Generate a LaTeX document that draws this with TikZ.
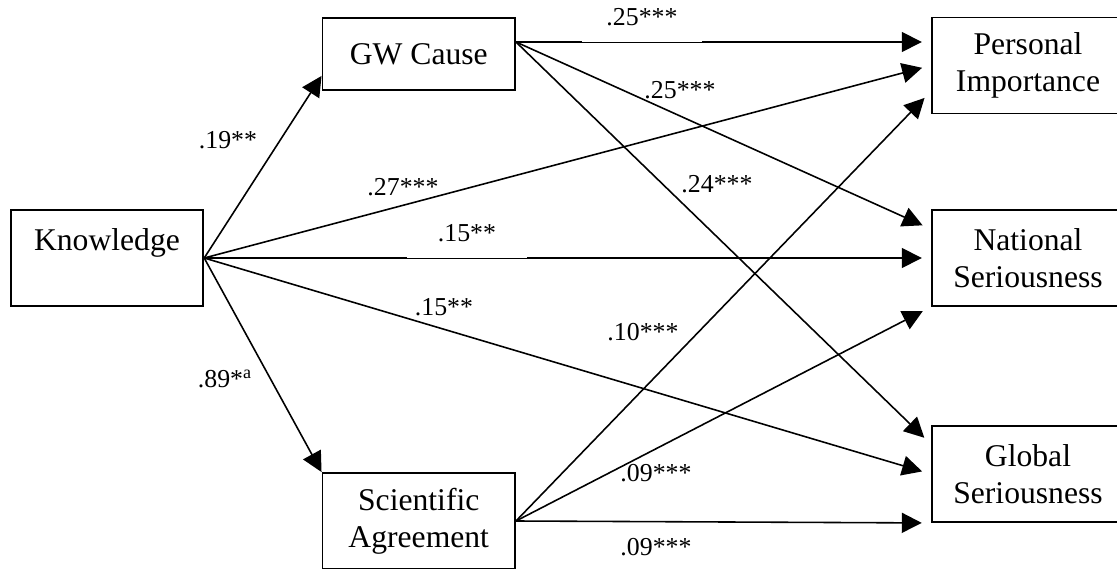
\documentclass[tikz,border=0pt]{standalone}
\usepackage{fontspec}
\setmainfont{Liberation Serif}
\usetikzlibrary{arrows.meta,positioning,calc}

\tikzset{
  var/.style={draw, line width=1.1pt, minimum width=3.85cm, minimum height=1.92cm,
    inner sep=0pt, align=center, font=\fontsize{18}{21}\selectfont},
  arr/.style={line width=0.9pt, -{Triangle[length=0.4cm,width=0.4cm]}},
  arrR/.style={arr, shorten >=0.18cm},
  coef/.style={font=\fontsize{14.7}{17}\selectfont, inner sep=1pt},
  cover/.style={coef, fill=white, minimum width=2.4cm, minimum height=1cm}
}

\begin{document}
\begin{tikzpicture}
	\useasboundingbox[clip] (0,0) rectangle (22.34,-11.38);
	% variables
	\node[var] (know) at (2.14,-5.16) {Knowledge\\\phantom{K}};
	\node[var, minimum height=1.44cm] (gw) at (8.375,-1.08) {GW Cause};
	\node[var] (sa) at (8.375,-10.42) {Scientific\\Agreement};
	\node[var] (pi) at (20.56,-1.31) {Personal\\Importance};
	\node[var] (ns) at (20.56,-5.16) {National\\Seriousness};
	\node[var] (gs) at (20.56,-9.48) {Global\\Seriousness};
	\coordinate (gwout) at ([yshift=0.24cm]gw.east);
	% paths from knowledge
	\draw[arr] (know.east) -- ([yshift=0.3cm]gw.south west);
	\draw[arr] (know.east) -- (sa.north west);
	\draw[arrR] (know.east) -- (pi.west);
	\draw[arrR] (know.east) -- (ns.west);
	\draw[arrR] (know.east) -- (gs.west);
	% paths from GW cause
	\draw[arrR] (gwout) -- (gwout -| pi.west);
	\draw[arrR] (gwout) -- ([yshift=-0.4cm]ns.north west);
	\draw[arrR] (gwout) -- ([yshift=-0.38cm]gs.north west);
	% paths from scientific agreement
	\draw[arrR] (sa.east) -- ([yshift=0.46cm]pi.south west);
	\draw[arrR] (sa.east) -- (ns.south west);
	\draw[arrR] (sa.east) -- (gs.south west);
	% coefficients
	\node[coef] (c1) at (4.56,-2.8) {.19**};
	\node[coef] (c2) at (8.06,-3.74) {.27***};
	\node[cover] (c3) at (9.34,-4.66) {.15**};
	\node[coef] (c4) at (8.88,-6.14) {.15**};
	\node[coef] (c5) at (4.5,-7.58) {.89*\textsuperscript{a}};
	\node[cover] (c6) at (12.84,-0.34) {.25***};
	\node[coef] (c7) at (13.6,-1.8) {.25***};
	\node[coef] (c8) at (14.34,-3.68) {.24***};
	\node[coef] (c9) at (12.86,-6.64) {.10***};
	\node[coef] (c10) at (13.12,-9.46) {.09***};
	\node[coef] (c11) at (13.12,-10.94) {.09***};
\end{tikzpicture}
\end{document}
